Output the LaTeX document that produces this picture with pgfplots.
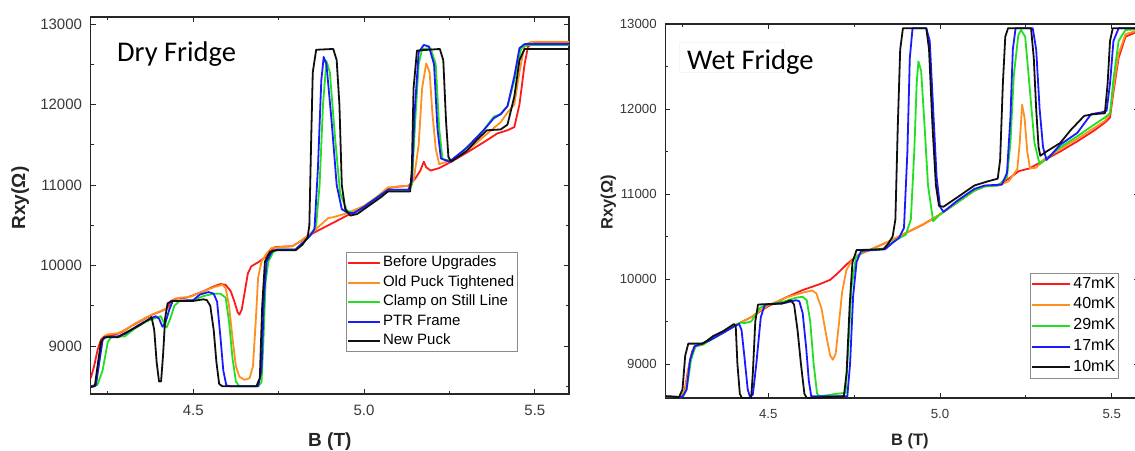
\documentclass[border=0pt]{standalone}
\usepackage{fontspec}
\setmainfont{Liberation Sans}
\newfontfamily\calibri{Carlito}
\usepackage{pgfplots}
\pgfplotsset{compat=1.18}
\definecolor{cred}{HTML}{FF1A1A}
\definecolor{corange}{HTML}{FF9020}
\definecolor{cgreen}{HTML}{20E020}
\definecolor{cblue}{HTML}{1A1AFF}
\definecolor{cblack}{HTML}{101010}
\pgfplotsset{
  myax/.style={
    scale only axis,
    axis line style={black!85, line width=1.1pt},
    every tick/.style={black!85, line width=1pt},
    major tick length=5pt, minor tick length=3pt,
    tick align=inside,
    scaled ticks=false,
    xtick={4.5,5.0,5.5}, xticklabels={4.5,5.0,5.5},
    minor xtick={4.25,4.75,5.25},
    ytick={9000,10000,11000,12000,13000},
    yticklabels={9000,10000,11000,12000,13000},
    minor ytick={8500,9500,10500,11500,12500},
    xmin=4.2,
    clip=true,
    legend cell align=left,
    every axis plot/.append style={line width=1.8pt, line join=round, no marks},
  }
}
\begin{document}
\begin{tikzpicture}
\useasboundingbox (0,0) rectangle (1135pt,450pt);
%%%%%%%%%%%%%%%% LEFT: Dry Fridge
\begin{axis}[myax,
  at={(90.7pt,56pt)}, anchor=south west,
  width=478.3pt, height=377pt,
  xmax=5.6, ymin=8404, ymax=13087,
  ticklabel style={font=\fontsize{15}{18}\selectfont, text=black!78},
  yticklabel style={inner sep=0pt, xshift=-8.5pt},
  xticklabel style={inner sep=0pt, yshift=-10.5pt},
  xlabel={\textbf{B (T)}}, ylabel={\textbf{Rxy(Ω)}},
  label style={font=\fontsize{19}{22}\selectfont, text=black!85},
  xlabel style={at={(axis description cs:0.5,-0.138)}, anchor=base},
  ylabel style={at={(axis description cs:-0.137,0.52)}, anchor=base},
  legend image code/.code={\draw[#1, line width=2pt] (0pt,0pt) -- (32pt,0pt);},
  legend style={at={(axis description cs:0.533,0.377)}, anchor=north west,
    draw=black!45, line width=0.8pt, fill=white, inner xsep=1pt, inner ysep=1pt,
    font=\fontsize{15}{18}\selectfont, row sep=0pt,
    nodes={inner xsep=2pt, inner ysep=2pt, text height=11.5pt, text depth=4pt}},
]
\addplot[cred] table {
4.200 8600
4.210 8750
4.220 8950
4.230 9080
4.240 9120
4.250 9130
4.270 9140
4.290 9170
4.320 9250
4.350 9320
4.380 9390
4.410 9440
4.425 9470
4.435 9560
4.450 9590
4.480 9600
4.500 9630
4.530 9680
4.560 9740
4.580 9770
4.595 9760
4.610 9680
4.620 9560
4.630 9420
4.635 9390
4.642 9450
4.650 9650
4.660 9900
4.670 9990
4.690 10040
4.710 10100
4.725 10180
4.740 10230
4.790 10240
4.810 10290
4.850 10400
4.900 10510
4.950 10620
5.000 10720
5.050 10880
5.070 10960
5.100 10980
5.130 10990
5.150 11080
5.165 11180
5.175 11290
5.182 11220
5.195 11180
5.220 11210
5.260 11300
5.300 11400
5.350 11530
5.390 11640
5.420 11680
5.440 11720
5.455 12000
5.470 12500
5.480 12720
5.500 12770
5.600 12770
};
\addlegendentry{Before Upgrades}
\addplot[corange] table {
4.200 8500
4.215 8520
4.225 8800
4.235 9080
4.245 9140
4.260 9150
4.280 9160
4.300 9200
4.330 9280
4.360 9350
4.390 9410
4.420 9460
4.432 9480
4.440 9570
4.460 9600
4.490 9610
4.520 9660
4.560 9730
4.585 9760
4.595 9720
4.605 9500
4.615 9100
4.625 8750
4.635 8620
4.650 8580
4.665 8600
4.675 8750
4.683 9300
4.690 9850
4.700 10050
4.715 10150
4.730 10220
4.790 10240
4.810 10290
4.850 10420
4.880 10530
4.895 10590
4.910 10600
4.950 10650
5.000 10740
5.040 10860
5.070 10970
5.130 10990
5.145 11050
5.160 11500
5.170 12200
5.182 12510
5.192 12400
5.200 11900
5.210 11450
5.220 11260
5.250 11300
5.300 11420
5.350 11600
5.400 11780
5.420 11900
5.440 12000
5.455 12400
5.470 12740
5.490 12780
5.600 12780
};
\addlegendentry{Old Puck Tightened}
\addplot[cgreen] table {
4.200 8500
4.220 8520
4.235 8700
4.250 9050
4.260 9110
4.300 9120
4.330 9220
4.360 9300
4.390 9350
4.405 9370
4.415 9280
4.422 9230
4.432 9330
4.445 9500
4.460 9560
4.500 9570
4.530 9620
4.560 9650
4.580 9650
4.595 9600
4.605 9300
4.615 8850
4.625 8560
4.635 8500
4.690 8500
4.700 8550
4.705 9000
4.712 9800
4.720 10050
4.735 10170
4.750 10200
4.800 10200
4.820 10280
4.845 10380
4.860 10500
4.870 11000
4.880 12000
4.890 12540
4.900 12400
4.915 11600
4.930 10900
4.950 10680
4.970 10650
5.000 10730
5.050 10880
5.070 10940
5.130 10940
5.140 11000
5.150 11800
5.160 12500
5.170 12690
5.195 12700
5.210 12500
5.220 11700
5.230 11320
5.260 11300
5.300 11460
5.350 11680
5.380 11850
5.400 11880
5.420 11980
5.440 12300
5.460 12700
5.480 12740
5.600 12740
};
\addlegendentry{Clamp on Still Line}
\addplot[cblue] table {
4.200 8500
4.215 8510
4.225 8800
4.235 9080
4.245 9110
4.280 9120
4.300 9150
4.340 9260
4.370 9330
4.390 9370
4.400 9340
4.410 9240
4.418 9280
4.430 9450
4.440 9560
4.500 9570
4.520 9640
4.545 9670
4.560 9650
4.570 9550
4.580 9100
4.588 8700
4.597 8510
4.610 8500
4.690 8500
4.700 8700
4.707 9600
4.715 10050
4.730 10170
4.745 10200
4.800 10200
4.820 10280
4.840 10360
4.855 10450
4.865 11200
4.875 12300
4.882 12590
4.890 12500
4.905 11800
4.920 11000
4.935 10700
4.950 10660
4.970 10650
5.000 10730
5.050 10880
5.070 10940
5.130 10940
5.140 11050
5.148 11900
5.160 12650
5.175 12740
5.190 12720
5.205 12500
5.215 11700
5.225 11330
5.250 11290
5.300 11460
5.350 11680
5.380 11830
5.400 11880
5.420 11980
5.440 12350
5.455 12700
5.470 12750
5.600 12750
};
\addlegendentry{PTR Frame}
\addplot[cblack] table {
4.200 8490
4.212 8500
4.220 8750
4.230 9050
4.240 9110
4.280 9110
4.300 9160
4.340 9250
4.370 9330
4.378 9360
4.386 9200
4.393 8800
4.400 8560
4.406 8560
4.412 8900
4.418 9350
4.425 9530
4.438 9560
4.500 9560
4.530 9580
4.540 9570
4.550 9500
4.560 9200
4.568 8800
4.576 8530
4.585 8500
4.685 8500
4.695 8600
4.702 9500
4.710 10050
4.725 10170
4.740 10190
4.800 10190
4.820 10260
4.835 10350
4.840 10500
4.845 11500
4.850 12400
4.860 12680
4.910 12690
4.920 12550
4.928 12000
4.935 11000
4.945 10700
4.960 10620
4.980 10640
5.000 10700
5.050 10850
5.070 10920
5.135 10920
5.140 11200
5.145 12200
5.155 12670
5.222 12690
5.232 12550
5.240 11800
5.247 11350
5.255 11290
5.300 11420
5.330 11560
5.350 11640
5.360 11680
5.400 11690
5.420 11750
5.440 12100
5.455 12550
5.470 12690
5.600 12690
};
\addlegendentry{New Puck}
\end{axis}
\node[anchor=base west, inner sep=0pt, font=\calibri\fontsize{28.5}{30}\selectfont] at (117pt,388pt) {Dry Fridge};
%%%%%%%%%%%%%%%% RIGHT: Wet Fridge
\draw[black!4, line width=0.6pt] (679pt,378pt) rectangle (784pt,408pt);
\begin{axis}[myax,
  at={(665.3pt,52pt)}, anchor=south west,
  width=473.9pt, height=374pt,
  xmax=5.58, ymin=8600, ymax=13000,
  ticklabel style={font=\fontsize{13.2}{16}\selectfont, text=black!78},
  yticklabel style={inner sep=0pt, xshift=-8.5pt},
  xticklabel style={inner sep=0pt, yshift=-11pt},
  xlabel={\textbf{B (T)}}, ylabel={\textbf{Rxy(Ω)}},
  label style={font=\fontsize{16.5}{19}\selectfont, text=black!85},
  xlabel style={at={(axis description cs:0.516,-0.126)}, anchor=base},
  ylabel style={at={(axis description cs:-0.111,0.524)}, anchor=base},
  legend image code/.code={\draw[#1, line width=2pt] (0pt,0pt) -- (38pt,0pt);},
  legend style={at={(axis description cs:0.7696,0.335)}, anchor=north west,
    draw=black!45, line width=0.8pt, fill=white, inner xsep=1pt, inner ysep=1pt,
    font=\fontsize{16}{19}\selectfont, row sep=0pt,
    nodes={inner xsep=2pt, inner ysep=2.1pt, text height=12pt, text depth=4.5pt}},
]
\addplot[cred] table {
4.200 8620
4.240 8610
4.255 8650
4.265 8900
4.278 9150
4.290 9210
4.310 9230
4.330 9290
4.360 9360
4.390 9430
4.420 9490
4.450 9550
4.480 9630
4.500 9680
4.550 9780
4.600 9870
4.650 9940
4.680 9990
4.700 10060
4.730 10180
4.760 10280
4.800 10350
4.850 10440
4.900 10540
4.950 10640
5.000 10760
5.050 10900
5.100 11040
5.130 11090
5.170 11110
5.200 11180
5.230 11270
5.260 11300
5.300 11390
5.350 11500
5.400 11620
5.450 11750
5.480 11840
5.495 11900
5.505 12200
5.520 12600
5.540 12850
5.580 12920
};
\addlegendentry{47mK}
\addplot[corange] table {
4.200 8620
4.245 8610
4.258 8700
4.270 9000
4.283 9200
4.300 9220
4.330 9290
4.360 9360
4.390 9430
4.420 9490
4.450 9550
4.480 9640
4.500 9690
4.550 9780
4.600 9840
4.628 9865
4.640 9830
4.655 9650
4.668 9350
4.680 9100
4.688 9050
4.696 9120
4.705 9450
4.715 9850
4.727 10100
4.740 10200
4.760 10280
4.800 10350
4.850 10440
4.900 10540
4.950 10640
5.000 10760
5.050 10900
5.100 11040
5.130 11090
5.170 11100
5.200 11150
5.225 11290
5.232 11600
5.239 12050
5.246 11900
5.254 11500
5.262 11300
5.280 11310
5.300 11400
5.350 11530
5.400 11650
5.450 11780
5.480 11860
5.495 11950
5.505 12250
5.520 12650
5.540 12880
5.580 12930
};
\addlegendentry{40mK}
\addplot[cgreen] table {
4.200 8620
4.248 8610
4.262 8700
4.275 9050
4.288 9210
4.310 9230
4.340 9300
4.370 9370
4.400 9450
4.420 9490
4.430 9480
4.440 9490
4.450 9500
4.460 9560
4.475 9660
4.500 9700
4.550 9740
4.580 9780
4.600 9790
4.612 9750
4.622 9500
4.632 9000
4.642 8650
4.650 8620
4.700 8650
4.725 8660
4.733 9200
4.742 9900
4.755 10250
4.780 10340
4.840 10360
4.870 10460
4.900 10520
4.915 10700
4.925 11500
4.932 12300
4.937 12560
4.945 12450
4.955 11800
4.965 11100
4.980 10680
5.000 10760
5.050 10900
5.100 11040
5.130 11090
5.170 11100
5.195 11200
5.205 11600
5.215 12400
5.228 12870
5.236 12930
5.248 12850
5.260 12300
5.275 11600
5.290 11350
5.300 11380
5.350 11550
5.400 11680
5.450 11820
5.480 11900
5.495 11950
5.505 12350
5.520 12800
5.540 12930
5.580 12940
};
\addlegendentry{29mK}
\addplot[cblue] table {
4.200 8620
4.250 8610
4.262 8700
4.272 9050
4.285 9210
4.300 9230
4.330 9280
4.370 9370
4.400 9440
4.415 9470
4.422 9400
4.430 9100
4.440 8700
4.446 8620
4.455 8640
4.465 9000
4.478 9550
4.490 9700
4.550 9720
4.580 9750
4.590 9740
4.600 9600
4.610 9200
4.618 8800
4.625 8620
4.730 8620
4.738 9000
4.747 9800
4.757 10200
4.770 10330
4.840 10350
4.860 10420
4.880 10480
4.895 10600
4.905 11500
4.912 12600
4.920 12950
4.960 12950
4.970 12800
4.980 12000
4.990 11200
5.000 10850
5.010 10790
5.050 10920
5.100 11060
5.130 11100
5.180 11110
5.195 11250
5.205 11900
5.212 12700
5.220 12950
5.270 12950
5.280 12700
5.290 12000
5.300 11550
5.310 11400
5.350 11580
5.400 11720
5.440 11940
5.470 11960
5.485 11980
5.495 12300
5.505 12800
5.520 12950
5.580 12950
};
\addlegendentry{17mK}
\addplot[cblack] table {
4.200 8620
4.240 8610
4.250 8700
4.258 9100
4.267 9240
4.310 9240
4.340 9330
4.370 9390
4.400 9470
4.405 9450
4.410 9000
4.417 8650
4.423 8600
4.450 8600
4.455 8900
4.462 9500
4.470 9700
4.540 9710
4.565 9750
4.575 9700
4.585 9400
4.595 9000
4.605 8650
4.612 8600
4.720 8620
4.728 8900
4.737 9700
4.745 10200
4.757 10340
4.835 10350
4.850 10420
4.862 10500
4.870 10700
4.877 11800
4.884 12700
4.892 12950
4.960 12950
4.968 12700
4.978 11800
4.988 11100
4.997 10860
5.010 10850
5.050 10960
5.100 11100
5.140 11150
5.168 11180
5.175 11400
5.183 12300
5.190 12850
5.198 12950
5.265 12950
5.273 12600
5.280 12000
5.287 11550
5.292 11450
5.310 11500
5.350 11600
5.380 11750
5.420 11920
5.450 11940
5.480 11950
5.488 12300
5.495 12800
5.503 12950
5.580 12950
};
\addlegendentry{10mK}
\end{axis}
\node[anchor=base west, inner sep=0pt, font=\calibri\fontsize{28.5}{30}\selectfont] at (687pt,380pt) {Wet Fridge};
\end{tikzpicture}
\end{document}
